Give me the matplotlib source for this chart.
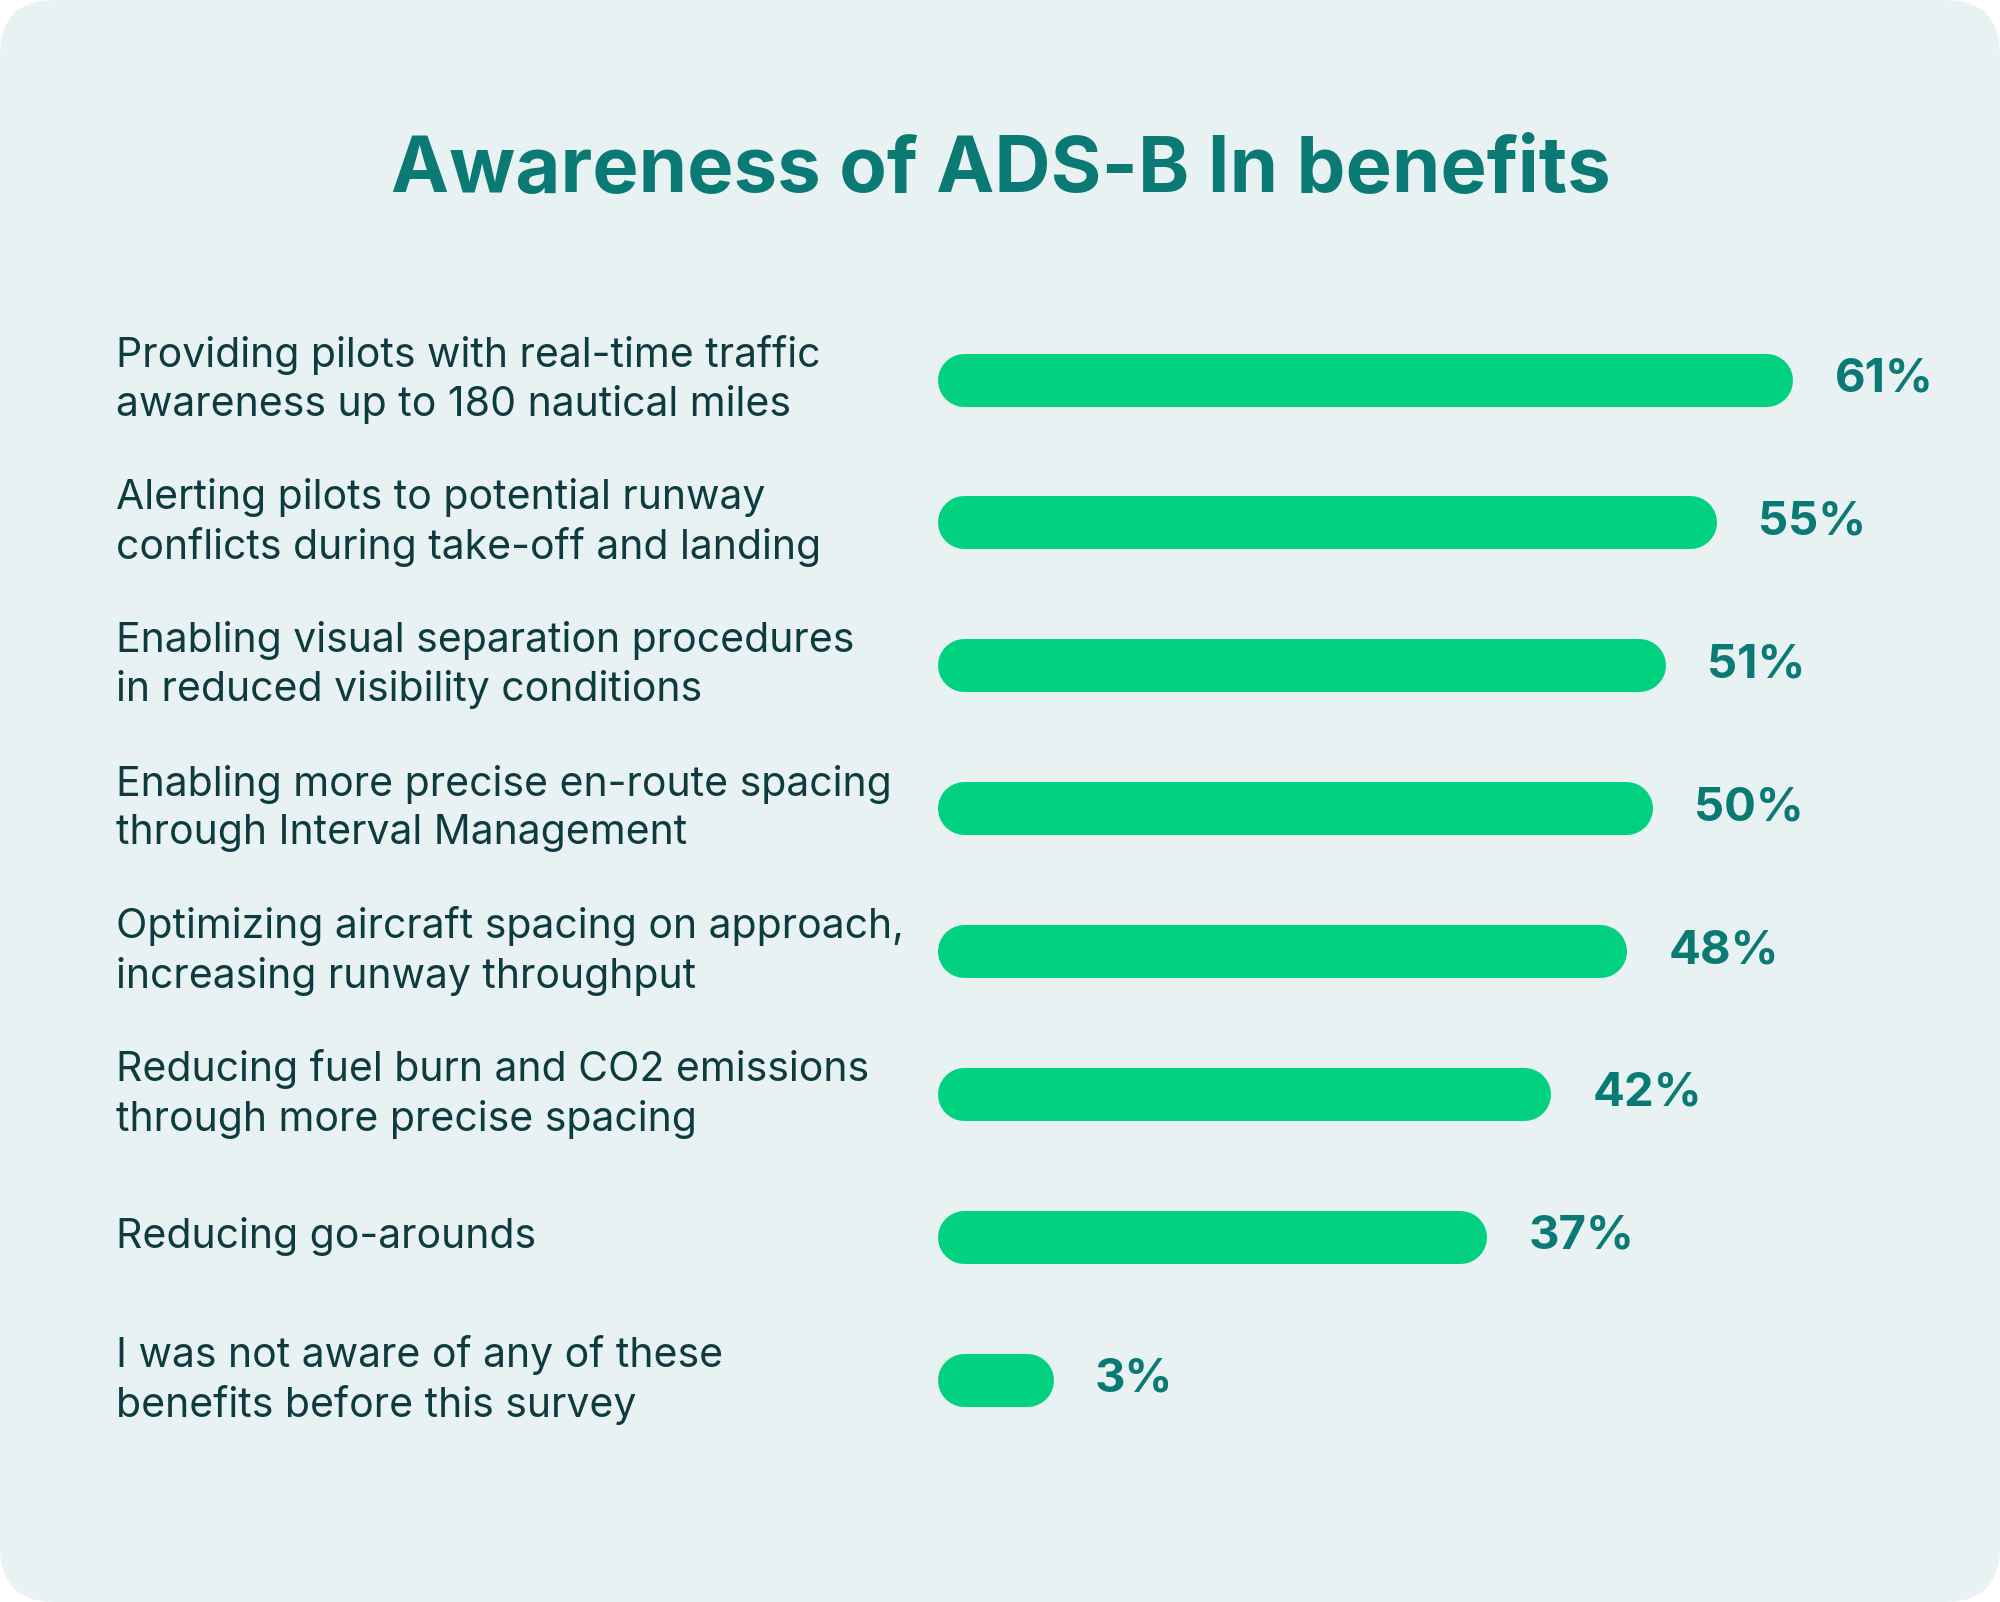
import matplotlib
matplotlib.use("Agg")
from matplotlib import pyplot as plt
from matplotlib.patches import FancyBboxPatch
import matplotlib.transforms as mtransforms

categories = [
    "Providing pilots with real-time traffic\nawareness up to 180 nautical miles",
    "Alerting pilots to potential runway\nconflicts during take-off and landing",
    "Enabling visual separation procedures\nin reduced visibility conditions",
    "Enabling more precise en-route spacing\nthrough Interval Management",
    "Optimizing aircraft spacing on approach,\nincreasing runway throughput",
    "Reducing fuel burn and CO2 emissions\nthrough more precise spacing",
    "Reducing go-arounds",
    "I was not aware of any of these\nbenefits before this survey",
]
values = [61, 55, 51, 50, 48, 42, 37, 3]
title = "Awareness of ADS-B In benefits"

W, H = 2000, 1602
BG = "#e9f2f3"
GREEN = "#02d17f"
TEAL = "#0b7a74"
DARK = "#0e3b3f"
FONT = ["Inter", "DejaVu Sans"]

fig = plt.figure(figsize=(W / 100, H / 100), dpi=100)
fig.patch.set_facecolor("white")

# card background in pixel coordinates
bg = fig.add_axes([0, 0, 1, 1])
bg.set_xlim(0, W)
bg.set_ylim(H, 0)
bg.axis("off")
bg.add_patch(FancyBboxPatch((0, 0), W, H, boxstyle="round,pad=0,rounding_size=55",
                            facecolor=BG, edgecolor="none"))
bg.text(1001, 172, title, ha="center", va="center", fontsize=56, fontweight="bold",
        color=TEAL, family=FONT)

# bar axes: x in percent, 12.75 px per %
px_per = 12.75
left_px = 963.5
ax_w = 900
top_px, step = 379.5, 142.9
ax = fig.add_axes([left_px / W, 1 - (top_px + 7.5 * step) / H, ax_w / W, 8 * step / H])
ax.set_xlim(0, ax_w / px_per)
ax.set_ylim(7.5, -0.5)
ax.axis("off")

lw = 53 * 72 / 100
base = 1.95
lbl = mtransforms.blended_transform_factory(fig.transFigure, ax.transData)
for i, (cat, v) in enumerate(zip(categories, values)):
    ax.plot([0, v + base], [i, i], color=GREEN, lw=lw, solid_capstyle="round", clip_on=False)
    ax.annotate(f"{v}%", xy=(v + base, i), xytext=(26.5 + 42, 0), textcoords="offset pixels",
                ha="left", va="center", fontsize=34, fontweight="bold", color=TEAL, family=FONT)
    ax.text(116 / W, i, cat, transform=lbl, ha="left", va="center", fontsize=29.5,
            color=DARK, family=FONT, linespacing=1.33)

fig.savefig("out.png", dpi=100, facecolor=fig.get_facecolor())
